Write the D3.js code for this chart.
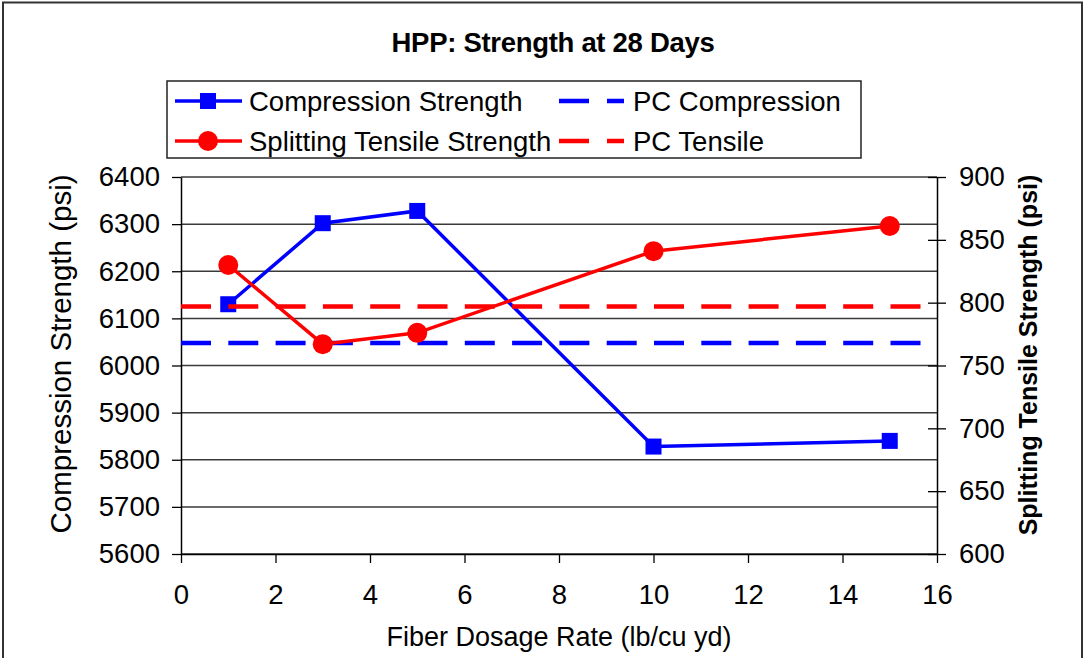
<!DOCTYPE html>
<html>
<head>
<meta charset="utf-8">
<script src="https://cdn.jsdelivr.net/npm/d3@7/dist/d3.min.js"></script>
<style>
  html, body { margin: 0; padding: 0; background: #fff; }
  svg { display: block; font-family: "Liberation Sans", Arial, sans-serif; }
</style>
</head>
<body>
<svg id="chart" width="1086" height="658"></svg>
<script>
// ---- data ----
const dosage = [1, 3, 5, 10, 15];
const compression = [6130, 6302, 6328, 5828, 5840];
const tensile = [830, 767, 776, 841, 861];
const pcCompression = 6048;
const pcTensile = 797;
const xTicks = [0, 2, 4, 6, 8, 10, 12, 14, 16];
const leftTicks = [5600, 5700, 5800, 5900, 6000, 6100, 6200, 6300, 6400];
const rightTicks = [600, 650, 700, 750, 800, 850, 900];
const seriesNames = ["Compression Strength", "Splitting Tensile Strength", "PC Compression", "PC Tensile"];

// ---- layout ----
const svg = d3.select("#chart");
const L = 181, R = 937, T = 177, B = 554;
const BLUE = "#0000ff", RED = "#ff0000";

const x = d3.scaleLinear().domain([0, 16]).range([L, R]);
const yL = d3.scaleLinear().domain([5600, 6400]).range([B, T]);
const yR = d3.scaleLinear().domain([600, 900]).range([B, T]);

// outer frame
svg.append("rect").attr("x", 3).attr("y", 2.5).attr("width", 1079).attr("height", 700)
  .attr("fill", "none").attr("stroke", "#333").attr("stroke-width", 2);

// title
svg.append("text").attr("x", 553).attr("y", 52).attr("text-anchor", "middle")
  .attr("font-size", 27.5).attr("font-weight", "bold").attr("letter-spacing", -0.3)
  .text("HPP: Strength at 28 Days");

// gridlines
svg.append("g").selectAll("line").data(leftTicks).join("line")
  .attr("x1", L).attr("x2", R)
  .attr("y1", d => yL(d)).attr("y2", d => yL(d))
  .attr("stroke", "#3a3a3a").attr("stroke-width", 1.5);

// axes
function styleAxis(g) {
  g.select(".domain").attr("stroke", "#000").attr("stroke-width", 1.5);
  g.selectAll(".tick line").attr("stroke", "#000").attr("stroke-width", 1.3);
  g.selectAll(".tick text").attr("font-size", 27.5).attr("fill", "#000")
    .attr("font-family", "Liberation Sans, Arial, sans-serif");
}
const fmt = d3.format("d");
const gL = svg.append("g").attr("transform", `translate(${L},0)`)
  .call(d3.axisLeft(yL).tickValues(leftTicks).tickFormat(fmt).tickSize(9).tickSizeOuter(0).tickPadding(12))
  .call(styleAxis);
const gR = svg.append("g").attr("transform", `translate(${R},0)`)
  .call(d3.axisRight(yR).tickValues(rightTicks).tickFormat(fmt).tickSize(9).tickSizeOuter(0).tickPadding(13))
  .call(styleAxis);
gR.selectAll(".tick line").attr("x1", -9);
const gB = svg.append("g").attr("transform", `translate(0,${B})`)
  .call(d3.axisBottom(x).tickValues(xTicks).tickFormat(fmt).tickSize(9).tickSizeOuter(0).tickPadding(21))
  .call(styleAxis);

// axis titles
svg.append("text").attr("transform", "translate(71,354) rotate(-90)")
  .attr("text-anchor", "middle").attr("font-size", 29.5)
  .text("Compression Strength (psi)");
svg.append("text").attr("transform", "translate(1037,355) rotate(-90)")
  .attr("text-anchor", "middle").attr("font-size", 25).attr("font-weight", "bold")
  .text("Splitting Tensile Strength (psi)");
svg.append("text").attr("x", 559).attr("y", 646).attr("text-anchor", "middle")
  .attr("font-size", 27)
  .text("Fiber Dosage Rate (lb/cu yd)");

// series
const compData = dosage.map((d, i) => [d, compression[i]]);
const tensData = dosage.map((d, i) => [d, tensile[i]]);
const lineL = d3.line().x(d => x(d[0])).y(d => yL(d[1]));
const lineR = d3.line().x(d => x(d[0])).y(d => yR(d[1]));
const DASH = "30,17.3";

// compression
svg.append("path").datum(compData).attr("d", lineL)
  .attr("fill", "none").attr("stroke", BLUE).attr("stroke-width", 3.5);
svg.append("g").selectAll("rect").data(compData).join("rect")
  .attr("x", d => x(d[0]) - 8).attr("y", d => yL(d[1]) - 8)
  .attr("width", 16).attr("height", 16).attr("fill", BLUE);
// PC compression
svg.append("line").attr("x1", x(0)).attr("x2", x(16))
  .attr("y1", yL(pcCompression)).attr("y2", yL(pcCompression))
  .attr("stroke", BLUE).attr("stroke-width", 4.5).attr("stroke-dasharray", DASH);
// tensile
svg.append("path").datum(tensData).attr("d", lineR)
  .attr("fill", "none").attr("stroke", RED).attr("stroke-width", 3.5);
svg.append("g").selectAll("circle").data(tensData).join("circle")
  .attr("cx", d => x(d[0])).attr("cy", d => yR(d[1])).attr("r", 10).attr("fill", RED);
// PC tensile
svg.append("line").attr("x1", x(0)).attr("x2", x(16))
  .attr("y1", yR(pcTensile)).attr("y2", yR(pcTensile))
  .attr("stroke", RED).attr("stroke-width", 4.5).attr("stroke-dasharray", DASH);

// legend
const lg = svg.append("g");
lg.append("rect").attr("x", 167).attr("y", 81).attr("width", 694).attr("height", 77)
  .attr("fill", "#fff").attr("stroke", "#222").attr("stroke-width", 1.5);
const rows = [101, 141];
// Compression Strength
lg.append("line").attr("x1", 175).attr("x2", 242).attr("y1", rows[0]).attr("y2", rows[0])
  .attr("stroke", BLUE).attr("stroke-width", 3.5);
lg.append("rect").attr("x", 200).attr("y", rows[0] - 8).attr("width", 16).attr("height", 16).attr("fill", BLUE);
// Splitting Tensile
lg.append("line").attr("x1", 175).attr("x2", 242).attr("y1", rows[1]).attr("y2", rows[1])
  .attr("stroke", RED).attr("stroke-width", 3.5);
lg.append("circle").attr("cx", 208).attr("cy", rows[1]).attr("r", 10).attr("fill", RED);
// PC lines
lg.append("line").attr("x1", 559).attr("x2", 624).attr("y1", rows[0]).attr("y2", rows[0])
  .attr("stroke", BLUE).attr("stroke-width", 4.5).attr("stroke-dasharray", "30,18");
lg.append("line").attr("x1", 559).attr("x2", 624).attr("y1", rows[1]).attr("y2", rows[1])
  .attr("stroke", RED).attr("stroke-width", 4.5).attr("stroke-dasharray", "30,18");
const labelPos = [[249, rows[0]], [249, rows[1]], [633, rows[0]], [633, rows[1]]];
lg.selectAll("text.lbl").data(seriesNames).join("text").attr("class", "lbl")
  .attr("x", (d, i) => labelPos[i][0]).attr("y", (d, i) => labelPos[i][1] + 10)
  .attr("font-size", 27.5)
  .text(d => d);
</script>
</body>
</html>
